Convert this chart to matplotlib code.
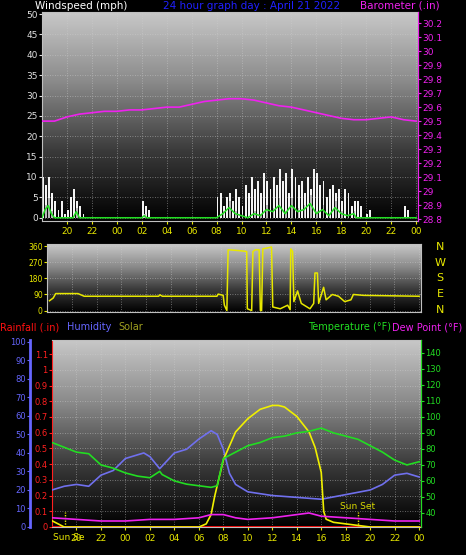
import numpy as np
import matplotlib
matplotlib.use("Agg")
import matplotlib.pyplot as plt
from matplotlib.colors import LinearSegmentedColormap

# ---------------- data ----------------
hour_ticks = [20, 22, 24, 26, 28, 30, 32, 34, 36, 38, 40, 42, 44, 46, 48]
hour_labels = ["20", "22", "00", "02", "04", "06", "08", "10", "12", "14", "16", "18", "20", "22", "00"]

baro_t = [18, 19, 20, 21, 22, 23, 24, 25, 26, 27, 28, 29, 30, 31, 32, 33, 34, 35, 36, 37, 38, 39, 40, 41, 42, 43, 44, 45, 46, 47, 48]
baro_v = [29.50, 29.50, 29.53, 29.55, 29.56, 29.57, 29.57, 29.58, 29.58, 29.59, 29.60, 29.60, 29.62, 29.64, 29.65,
          29.66, 29.66, 29.65, 29.63, 29.61, 29.60, 29.58, 29.56, 29.54, 29.52, 29.51, 29.51, 29.52, 29.53, 29.51, 29.50]

gust_t = [18.0, 18.25, 18.5, 18.75, 19.0, 19.25, 19.5, 19.75, 20.0, 20.25, 20.5, 20.75, 21.0, 21.25,
          26.0, 26.25, 26.5,
          32.0, 32.25, 32.5, 32.75, 33.0, 33.25, 33.5, 33.75, 34.0, 34.25, 34.5, 34.75, 35.0, 35.25, 35.5, 35.75,
          36.0, 36.25, 36.5, 36.75, 37.0, 37.25, 37.5, 37.75, 38.0, 38.25, 38.5, 38.75, 39.0, 39.25, 39.5, 39.75,
          40.0, 40.25, 40.5, 40.75, 41.0, 41.25, 41.5, 41.75, 42.0, 42.25, 42.5, 42.75, 43.0, 43.25, 43.5,
          44.0, 44.25, 47.0, 47.25]
gust_v = [10, 8, 10, 6, 4, 2, 4, 1, 2, 5, 7, 4, 3, 1,
          4, 3, 2,
          5, 6, 3, 5, 6, 4, 7, 5, 3, 8, 6, 10, 7, 9, 6, 11,
          9, 7, 10, 8, 12, 9, 11, 6, 12, 10, 8, 9, 6, 10, 7, 12,
          11, 8, 9, 5, 7, 8, 6, 7, 4, 7, 6, 3, 4, 4, 3,
          1, 2, 3, 2]
avg_t = [18.0, 18.25, 18.5, 18.75, 19.0, 20.5, 20.75, 21.0, 26.0, 26.2, 26.4, 31.8, 32.0, 32.5, 33.0, 33.5,
         34.0, 34.5, 35.0, 35.5, 36.0, 36.5, 37.0, 37.5, 38.0, 38.5, 39.0, 39.5, 40.0, 40.5, 41.0, 41.5, 42.0,
         42.5, 43.0, 43.2, 48.0]
avg_v = [0, 2, 3, 1, 0, 0, 1.5, 0, 0, 0.5, 0, 0, 0, 1, 2.5, 1, 0.5, 0, 1, 0.5, 2, 1.5, 3, 1, 3, 1.5, 2, 3.5,
         1, 2, 0.5, 2.5, 1, 0.5, 1, 0, 0]

dir_t = [18.2, 18.5, 18.7, 20.5, 21.0, 27.0, 27.1, 27.3, 31.7, 31.8, 32.2, 32.3, 32.5, 32.6, 33.5, 34.1, 34.15,
         34.5, 34.6, 34.8, 35.1, 35.2, 35.3, 35.4, 36.1, 36.2, 36.8, 37.4, 37.6, 37.65, 37.8, 37.9, 38.2, 38.5,
         39.2, 39.5, 39.6, 39.8, 39.9, 40.3, 40.5, 41.0, 41.5, 42.0, 42.5, 42.7, 43.5, 48.0]
dir_v = [55, 70, 95, 95, 80, 80, 88, 80, 80, 92, 85, 30, 0, 340, 335, 330, 10,
         0, 330, 340, 340, 0, 0, 345, 355, 20, 10, 30, 5, 345, 330, 50, 110, 40,
         10, 40, 210, 210, 40, 130, 60, 90, 80, 50, 60, 90, 85, 80]

temp_t = [18, 19, 20, 21, 22, 23, 24, 25, 26, 26.8, 27, 28, 29, 30, 31, 31.5, 32, 33, 34, 35, 36, 37, 38, 39,
          40, 41, 42, 43, 44, 45, 46, 47, 47.5, 48]
temp_v = [84, 81, 78, 77, 70, 68, 65, 63, 62, 66, 64, 60, 58, 57, 56, 57, 74, 78, 82, 84, 87, 88, 90, 91,
          93, 90, 88, 86, 82, 78, 73, 70, 71, 72]

hum_t = [18, 19, 20, 21, 22, 23, 24, 25.5, 26, 26.8, 28, 29, 30, 31, 31.5, 32, 32.5, 33, 34, 36, 38, 40, 42,
         44, 45, 46, 47, 48]
hum_v = [20, 22, 23, 22, 28, 30.5, 37, 40, 38, 31.5, 40, 42, 47.5, 52, 50, 42, 29, 23, 19, 17, 16, 15, 17.5,
         20, 23, 28, 29, 27]

solar_t = [18, 19, 30, 30.6, 31, 31.1, 31.3, 32, 33, 34, 35, 36, 36.5, 37, 38, 39, 39.5, 40, 40.2, 40.4, 41,
           43, 44, 48]
solar_v = [40, 0, 0, 20, 80, 120, 200, 430, 610, 695, 755, 780, 780, 770, 710, 610, 510, 350, 100, 50, 30,
           10, 0, 0]

dew_t = [18, 20, 22, 24, 26, 28, 30, 31, 32, 33, 34, 36, 38, 39, 40, 42, 44, 46, 48]
dew_v = [37, 36, 35, 35, 36, 36, 37, 39, 39, 37, 36, 37, 39, 40, 38, 37, 36, 35, 35]

rain_t = [18, 48]
rain_v = [0, 0]

sunset_t = [19.07, 43.0]

# ---------------- style ----------------
W, H = 466, 555
fig = plt.figure(figsize=(W / 100, H / 100), dpi=100, facecolor="black")
cmap = LinearSegmentedColormap.from_list("bg", ["#000000", "#3a3a3a", "#8a8a8a", "#c8c8c8"])
XMIN, XMAX = 18, 48.15
YEL = "#e8e800"


def bg(ax):
    ax.set_facecolor("black")
    grad = np.linspace(0, 1, 256).reshape(-1, 1)
    ax.imshow(grad, cmap=cmap, aspect="auto", origin="lower",
              extent=[0, 1, 0, 1], transform=ax.transAxes, zorder=0)
    ax.grid(True, color="#d0d0d0", linestyle=(0, (1, 2)), linewidth=0.6, alpha=0.6)
    for s in ax.spines.values():
        s.set_color("#c0c0c0")


def px(l, t, r, b):
    return [l / W, 1 - b / H, (r - l) / W, (b - t) / H]


# ---- top panel: wind + barometer
ax1 = fig.add_axes(px(42, 12, 418, 221))
bg(ax1)
ax1.set_xlim(XMIN, XMAX)
ax1.set_ylim(-0.8, 50.5)
ax1.bar(gust_t, gust_v, width=0.15, align="edge", color="#f4f4f4", zorder=2)
ax1.bar(avg_t, [v * 1.6 for v in avg_v], width=0.12, align="edge", color="#b8b8b8", zorder=2)
ax1.plot(avg_t, avg_v, color="#22dd22", lw=1.1, zorder=3)
ax1.set_yticks(range(0, 51, 5))
ax1.set_xticks(hour_ticks)
ax1.set_xticklabels(hour_labels)
ax1.tick_params(axis="y", colors="#e0e0e0", labelsize=6.5, length=2, pad=1)
ax1.tick_params(axis="x", colors=YEL, labelsize=6.5, length=2, pad=2)
ax1.set_zorder(1)
axb = ax1.twinx()
axb.set_ylim(28.786, 30.28)
axb.plot(baro_t, baro_v, color="#ee22ee", lw=1.2)
axb.set_yticks(np.round(np.arange(28.8, 30.21, 0.1), 1))
axb.set_yticklabels([f"{v:g}" for v in np.round(np.arange(28.8, 30.21, 0.1), 1)])
axb.tick_params(axis="y", colors="#ee22ee", labelsize=6.5, length=2, pad=1)
for s in axb.spines.values():
    s.set_visible(False)
axb.spines["right"].set_visible(True)
axb.spines["right"].set_color("#ee22ee")
axb.set_xlim(XMIN, XMAX)

fig.text(35 / W, 1 - 6 / H, "Windspeed (mph)", color="white", fontsize=7.5, va="center")
fig.text(252 / W, 1 - 6 / H, "24 hour graph day : April 21 2022", color="#2020ff", fontsize=7.5,
         va="center", ha="center")
fig.text(440 / W, 1 - 6 / H, "Barometer (.in)", color="#ee22ee", fontsize=7.5, va="center", ha="right")

# ---- wind direction panel
ax2 = fig.add_axes(px(47, 244, 421, 312))
bg(ax2)
ax2.set_xlim(XMIN, XMAX)
ax2.set_ylim(-8, 372)
ax2.plot(dir_t, dir_v, color=YEL, lw=1.1, zorder=3)
ax2.set_yticks([0, 90, 180, 270, 360])
ax2.set_xticks(hour_ticks)
ax2.set_xticklabels([])
ax2.tick_params(axis="y", colors=YEL, labelsize=5.5, length=2, pad=1)
ax2.tick_params(axis="x", length=0)
for i, lab in enumerate(["N", "E", "S", "W", "N"]):
    fig.text(440 / W, 1 - (310 - i * 15.8) / H, lab, color=YEL, fontsize=8, ha="center", va="center")

# ---- bottom panel
ax3 = fig.add_axes(px(52, 340, 421, 527))
bg(ax3)
ax3.set_xlim(XMIN, XMAX)
ax3.set_ylim(0, 1.19)
ax3.plot(rain_t, rain_v, color="#ff1010", lw=2.0, zorder=4)
ax3.set_yticks(np.round(np.arange(0, 1.11, 0.1), 1))
ax3.set_yticklabels([f"{v:g}" for v in np.round(np.arange(0, 1.11, 0.1), 1)])
ax3.tick_params(axis="y", colors="#ff2020", labelsize=6, length=2, pad=1)
ax3.spines["left"].set_color("#ff2020")
ax3.spines["left"].set_linestyle((0, (2, 1)))
ax3.set_xticks(hour_ticks)
ax3.set_xticklabels(hour_labels)
ax3.tick_params(axis="x", colors=YEL, labelsize=6.5, length=2, pad=3)
for st in sunset_t:
    ax3.axvline(st, ymax=0.08, color=YEL, lw=1.0, linestyle=(0, (1, 1)), zorder=3)
fig.text(53 / W, 1 - 537 / H, "Sun Se", color=YEL, fontsize=6.5, ha="left", va="center")
ax3.text(43.0, 0.1, "Sun Set", color="#d8d800", fontsize=6.5, ha="center", va="bottom")

axh = ax3.twinx()
axh.spines["right"].set_visible(False)
axh.spines["left"].set_visible(True)
axh.spines["left"].set_position(("axes", -22 / 369))
axh.spines["left"].set_color("#6666ff")
axh.spines["left"].set_linewidth(2)
axh.spines["top"].set_visible(False)
axh.spines["bottom"].set_visible(False)
axh.yaxis.set_ticks_position("left")
axh.yaxis.set_label_position("left")
axh.set_ylim(0, 101)
axh.set_yticks(range(0, 101, 10))
axh.tick_params(axis="y", colors="#6666ff", labelsize=6, length=2, pad=1)
axh.plot(hum_t, hum_v, color="#7070ee", lw=1.2)

axs = ax3.twinx()
axs.set_ylim(0, 1200)
axs.axis("off")
axs.plot(solar_t, solar_v, color="#f0f000", lw=1.2)

axt = ax3.twinx()
axt.set_ylim(31.25, 148)
axt.set_yticks(range(40, 141, 10))
axt.tick_params(axis="y", colors="#22dd22", labelsize=6, length=2, pad=1)
for s in axt.spines.values():
    s.set_visible(False)
axt.spines["right"].set_visible(True)
axt.spines["right"].set_color("#22dd22")
axt.plot(temp_t, temp_v, color="#22dd22", lw=1.2)
axt.plot(dew_t, dew_v, color="#ee22ee", lw=1.2)
for a in (axh, axs, axt):
    a.set_xlim(XMIN, XMAX)

y_leg = 1 - 327 / H
fig.text(0, y_leg, "Rainfall (.in)", color="#ff1010", fontsize=7, va="center")
fig.text(67 / W, y_leg, "Humidity", color="#6666ff", fontsize=7, va="center")
fig.text(118 / W, y_leg, "Solar", color="#a0a020", fontsize=7, va="center")
fig.text(391 / W, y_leg, "Temperature (°F)", color="#22dd22", fontsize=7, va="center", ha="right")
fig.text(462 / W, y_leg, "Dew Point (°F)", color="#ee22ee", fontsize=7, va="center", ha="right")

fig.savefig("out.png", dpi=100, facecolor="black")
